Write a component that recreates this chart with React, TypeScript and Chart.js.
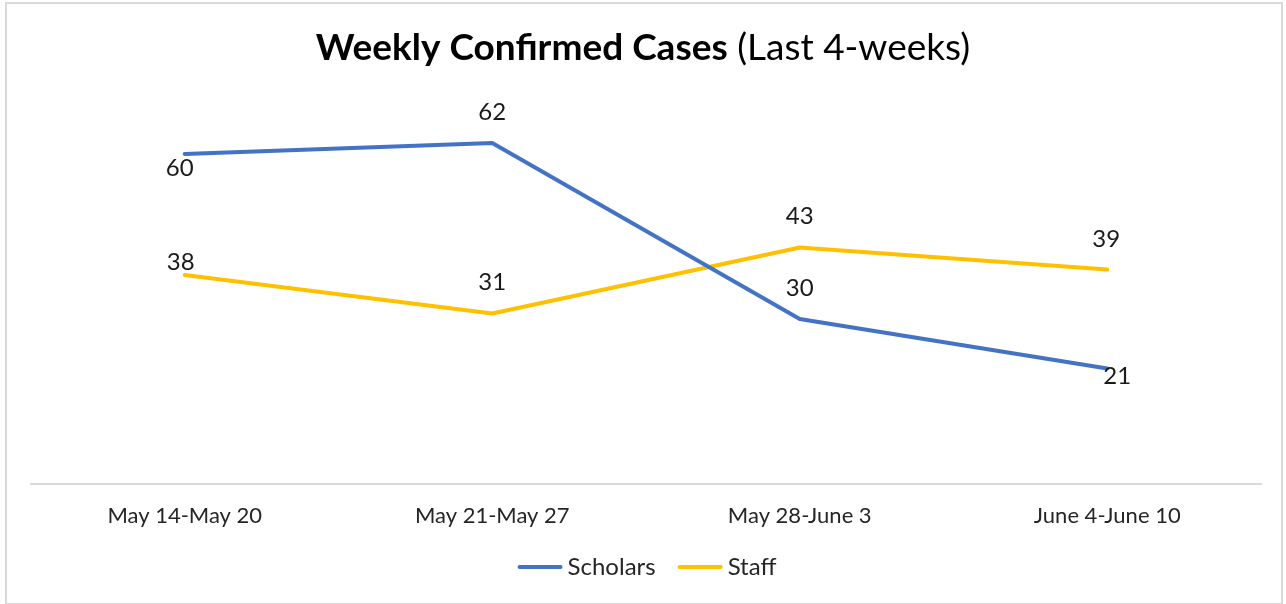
import React, { useEffect, useRef } from "react";
import { Chart, registerables } from "chart.js";

Chart.register(...registerables);

const categories = ["May 14-May 20", "May 21-May 27", "May 28-June 3", "June 4-June 10"];
const scholars = [60, 62, 30, 21];
const staff = [38, 31, 43, 39];
const seriesNames = ["Scholars", "Staff"];
const seriesColors = ["#4472C4", "#FFC000"];
const titleBold = "Weekly Confirmed Cases";
const titleNormal = " (Last 4-weeks)";

// label placement offsets (dx, dy) relative to the point, per series
const scholarLabelOffsets = [[-5, 14], [0, -31], [0, -31], [10, 8]];
const staffLabelOffsets = [[-4, -13], [0, -31], [0, -31], [-1, -30]];

const FONT = "Lato, 'Open Sans', sans-serif";

const framePlugin = {
  id: "frame",
  beforeDraw(chart: any) {
    const ctx = chart.ctx;
    ctx.save();
    ctx.fillStyle = "#ffffff";
    ctx.fillRect(0, 0, chart.width, chart.height);
    ctx.strokeStyle = "#d9d9d9";
    ctx.lineWidth = 2;
    ctx.strokeRect(6, 3, chart.width - 10, chart.height - 3);
    ctx.restore();
  },
};

const titlePlugin = {
  id: "mixedTitle",
  afterDraw(chart: any) {
    const ctx = chart.ctx;
    ctx.save();
    const boldFont = `bold 37px ${FONT}`;
    const normalFont = `37px ${FONT}`;
    ctx.font = boldFont;
    const w1 = ctx.measureText(titleBold).width;
    ctx.font = normalFont;
    const w2 = ctx.measureText(titleNormal).width;
    const cx = 643;
    const x0 = cx - (w1 + w2) / 2;
    const baseline = 60;
    ctx.fillStyle = "#000000";
    ctx.textAlign = "left";
    ctx.textBaseline = "alphabetic";
    ctx.font = boldFont;
    ctx.fillText(titleBold, x0, baseline);
    ctx.font = normalFont;
    ctx.fillText(titleNormal, x0 + w1, baseline);
    ctx.restore();
  },
};

const legendPlugin = {
  id: "customLegend",
  afterDraw(chart: any) {
    const ctx = chart.ctx;
    ctx.save();
    ctx.font = `24px ${FONT}`;
    const lineW = 45;
    const gap = 5;
    const itemGap = 22;
    const widths = seriesNames.map((n) => lineW + gap + ctx.measureText(n).width);
    const total = widths.reduce((a, b) => a + b, 0) + itemGap * (seriesNames.length - 1);
    let x = 647 - total / 2;
    const y = 567;
    ctx.textAlign = "left";
    ctx.textBaseline = "middle";
    seriesNames.forEach((n, i) => {
      ctx.strokeStyle = seriesColors[i];
      ctx.lineWidth = 4;
      ctx.lineCap = "round";
      ctx.beginPath();
      ctx.moveTo(x + 2, y);
      ctx.lineTo(x + lineW - 2, y);
      ctx.stroke();
      ctx.fillStyle = "#262626";
      ctx.fillText(n, x + lineW + gap, y);
      x += widths[i] + itemGap;
    });
    ctx.restore();
  },
};

const labelPlugin = {
  id: "pointLabels",
  afterDatasetsDraw(chart: any) {
    const ctx = chart.ctx;
    const offsets = [scholarLabelOffsets, staffLabelOffsets];
    ctx.save();
    ctx.font = `24px ${FONT}`;
    ctx.fillStyle = "#1a1a1a";
    ctx.textAlign = "center";
    ctx.textBaseline = "middle";
    chart.data.datasets.forEach((ds: any, di: number) => {
      const meta = chart.getDatasetMeta(di);
      meta.data.forEach((pt: any, i: number) => {
        const [dx, dy] = offsets[di][i];
        ctx.fillText(String(ds.data[i]), pt.x + dx, pt.y + dy);
      });
    });
    ctx.restore();
  },
};

export default function App() {
  const ref = useRef<HTMLCanvasElement | null>(null);

  useEffect(() => {
    document.body.style.margin = "0";
    document.body.style.overflow = "hidden";
    if (!ref.current) return;
    const chart = new Chart(ref.current, {
      type: "line",
      data: {
        labels: categories,
        datasets: [
          {
            label: seriesNames[0],
            data: scholars,
            borderColor: seriesColors[0],
            backgroundColor: seriesColors[0],
            borderWidth: 4,
            pointRadius: 0,
            tension: 0,
            borderCapStyle: "round",
            borderJoinStyle: "round",
          },
          {
            label: seriesNames[1],
            data: staff,
            borderColor: seriesColors[1],
            backgroundColor: seriesColors[1],
            borderWidth: 4,
            pointRadius: 0,
            tension: 0,
            borderCapStyle: "round",
            borderJoinStyle: "round",
          },
        ],
      },
      options: {
        responsive: false,
        animation: false,
        layout: { padding: { top: 99, left: 31, right: 25, bottom: 60 } },
        plugins: {
          title: { display: false },
          tooltip: { enabled: false },
          legend: { display: false },
        },
        scales: {
          x: {
            offset: true,
            grid: { display: false },
            border: { display: true, color: "#d9d9d9", width: 2 },
            ticks: {
              color: "#262626",
              font: { family: FONT, size: 22 },
              padding: 11,
              maxRotation: 0,
            },
            afterFit: (scale: any) => {
              scale.height = 60;
            },
          },
          y: {
            min: 0,
            max: 70,
            display: false,
            grid: { display: false },
          },
        },
      },
      plugins: [framePlugin, titlePlugin, labelPlugin, legendPlugin],
    });
    return () => chart.destroy();
  }, []);

  return (
    <div style={{ width: 1286, height: 604 }}>
      <canvas ref={ref} width={1286} height={604} style={{ display: "block" }} />
    </div>
  );
}
